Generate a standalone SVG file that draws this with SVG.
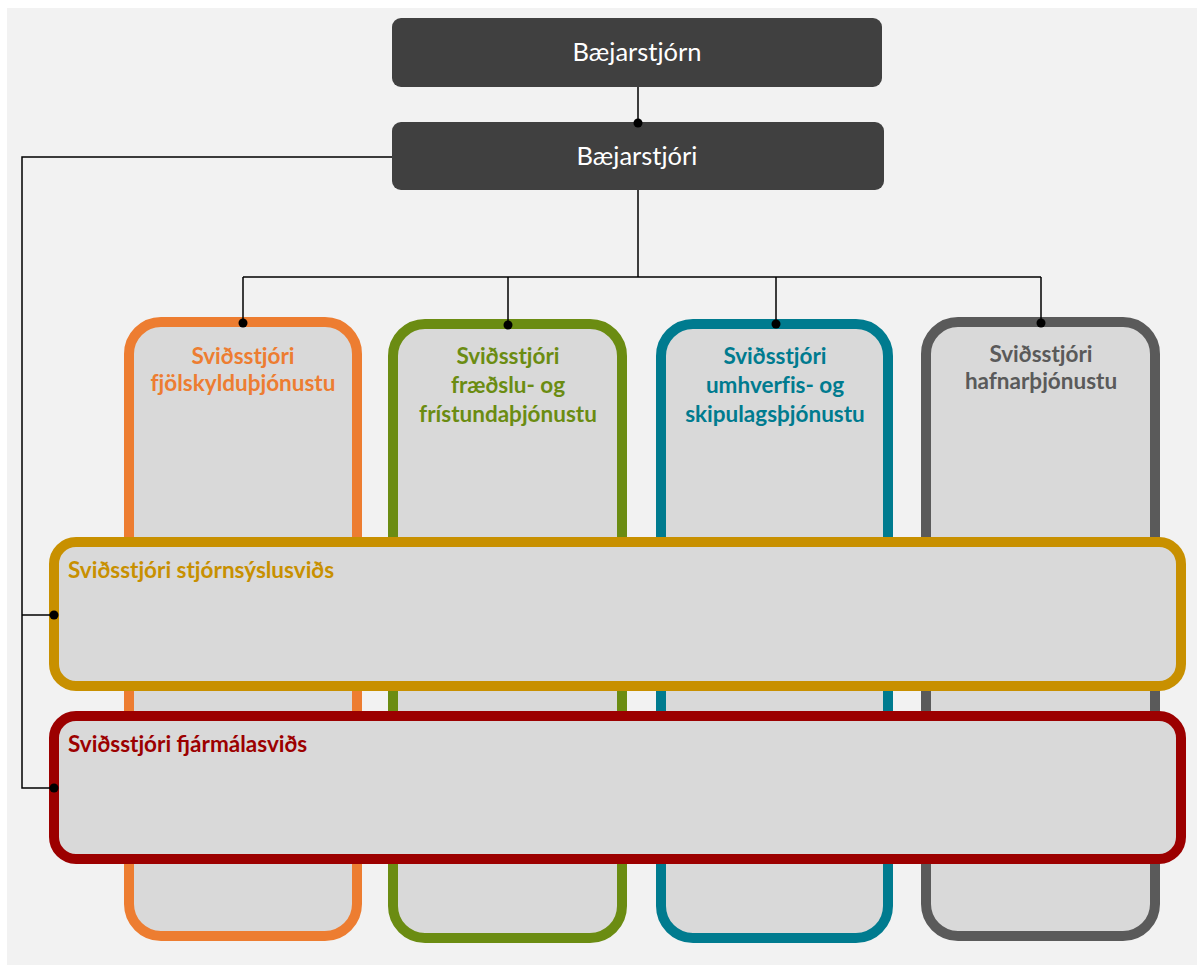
<svg xmlns="http://www.w3.org/2000/svg" width="1197" height="965" viewBox="0 0 1197 965">
<defs>
<style>
.top{fill:#404040}
.toptxt{font-family:Lato,"Liberation Sans",sans-serif;font-size:25.5px;fill:#ffffff;text-anchor:middle}
.col{fill:#d9d9d9;stroke-width:10}
.ttl{font-family:Lato,"Liberation Sans",sans-serif;font-size:22.5px;font-weight:bold;text-anchor:middle;font-variant-ligatures:none}
.ltl{font-family:Lato,"Liberation Sans",sans-serif;font-size:22.5px;font-weight:bold}
.conn line,.conn polyline{stroke:#000;stroke-width:1.5;fill:none}
.conn circle{fill:#000}
</style>
</defs>
<rect x="0" y="0" width="1197" height="965" fill="#ffffff"/>
<rect x="7" y="8" width="1190" height="957" fill="#f2f2f2"/>

<g id="col-orange">
<rect class="col" x="129" y="322" width="228" height="614" rx="32" stroke="#ed7d31"/>
<text class="ttl" fill="#ed7d31" x="243" y="364">Sviðsstjóri</text>
<text class="ttl" fill="#ed7d31" x="243" y="391">fjölskylduþjónustu</text>
</g>
<g id="col-green">
<rect class="col" x="393" y="324" width="229" height="614" rx="32" stroke="#6b8c12"/>
<text class="ttl" fill="#6b8c12" x="508" y="364">Sviðsstjóri</text>
<text class="ttl" fill="#6b8c12" x="508" y="393">fræðslu- og</text>
<text class="ttl" fill="#6b8c12" x="508" y="422">frístundaþjónustu</text>
</g>
<g id="col-teal">
<rect class="col" x="661" y="324" width="227" height="614" rx="32" stroke="#007b8f"/>
<text class="ttl" fill="#007b8f" x="775" y="364">Sviðsstjóri</text>
<text class="ttl" fill="#007b8f" x="775" y="393">umhverfis- og</text>
<text class="ttl" fill="#007b8f" x="775" y="422">skipulagsþjónustu</text>
</g>
<g id="col-gray">
<rect class="col" x="926" y="322" width="229" height="614" rx="32" stroke="#5a5a5a"/>
<text class="ttl" fill="#5a5a5a" x="1041" y="362">Sviðsstjóri</text>
<text class="ttl" fill="#5a5a5a" x="1041" y="389">hafnarþjónustu</text>
</g>

<g id="stjornsysla">
<rect class="col" x="54" y="542" width="1127" height="144" rx="22" stroke="#c89000"/>
<text class="ltl" fill="#c89000" x="68" y="578">Sviðsstjóri stjórnsýslusviðs</text>
</g>
<g id="fjarmal">
<rect class="col" x="54" y="716" width="1127" height="143" rx="22" stroke="#9c0000"/>
<text class="ltl" fill="#9c0000" x="68" y="752">Sviðsstjóri fjármálasviðs</text>
</g>

<g id="baejarstjorn">
<rect class="top" x="392" y="18" width="490" height="69" rx="9"/>
<text class="toptxt" x="637" y="61">Bæjarstjórn</text>
</g>
<g id="baejarstjori">
<rect class="top" x="392" y="122" width="492" height="68" rx="9"/>
<text class="toptxt" x="637" y="165">Bæjarstjóri</text>
</g>

<g class="conn" id="connectors">
<line x1="638" y1="87" x2="638" y2="123"/>
<circle cx="638" cy="123" r="4.5"/>
<line x1="638" y1="190" x2="638" y2="277"/>
<line x1="243" y1="277" x2="1041" y2="277"/>
<line x1="243" y1="277" x2="243" y2="323"/>
<circle cx="243" cy="323" r="4.5"/>
<line x1="508" y1="277" x2="508" y2="325"/>
<circle cx="508" cy="325" r="4.5"/>
<line x1="776" y1="277" x2="776" y2="324"/>
<circle cx="776" cy="324" r="4.5"/>
<line x1="1041" y1="277" x2="1041" y2="323"/>
<circle cx="1041" cy="323" r="4.5"/>
<polyline points="392,157 22,157 22,788 54,788"/>
<line x1="22" y1="615" x2="54" y2="615"/>
<circle cx="54" cy="615" r="4.5"/>
<circle cx="54" cy="788" r="4.5"/>
</g>
</svg>
